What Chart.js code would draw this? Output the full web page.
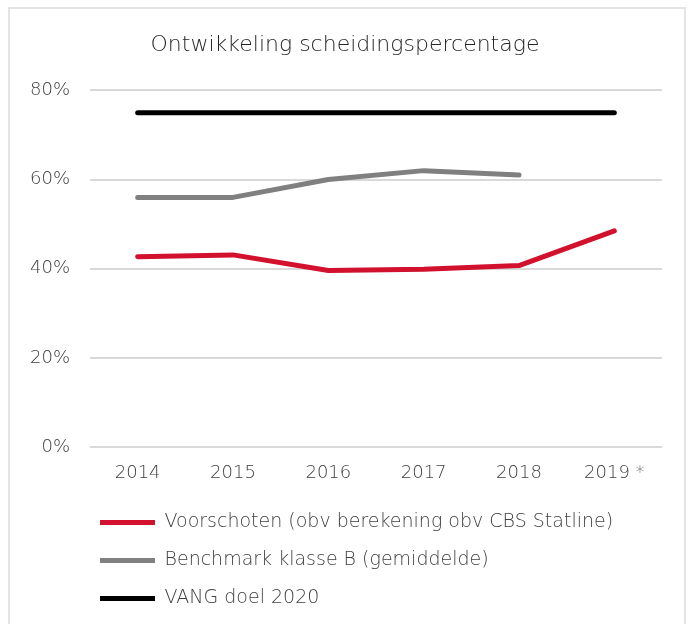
<!DOCTYPE html>
<html>
<head>
<meta charset="utf-8">
<script src="https://cdn.jsdelivr.net/npm/chart.js@4.4.0/dist/chart.umd.min.js"></script>
<style>
    body { margin: 0; background: #ffffff; }
    #frame {
        position: absolute; left: 8px; top: 7px; width: 678px; height: 640px;
        border: 2px solid #e4e4e4; box-sizing: border-box;
    }
    #wrap { position: absolute; left: 0; top: 0; width: 694px; height: 624px; }
</style>
</head>
<body>
<div id="frame"></div>
<div id="wrap"><canvas id="scheidingChart"></canvas></div>
<script>
const jaren = ['2014', '2015', '2016', '2017', '2018', '2019 *'];
const voorschoten = [42.7, 43.1, 39.6, 39.9, 40.7, 48.5];
const benchmark = [56, 56, 60, 62, 61, null];
const vangDoel = [75, 75, 75, 75, 75, 75];

const fontFamily = "'DejaVu Sans', sans-serif";
const tekstKleur = '#404040';

// legenda zo schuiven dat hij net binnen het plotvlak begint
const legendaOffset = {
    id: 'legendaOffset',
    afterLayout(chart) {
        const legend = chart.legend;
        const pad = legend.options.labels.padding;
        const shift = (chart.chartArea.left + 10) - (legend.left + pad);
        legend.left += shift;
        legend.right += shift;
    }
};

const ctx = document.getElementById('scheidingChart').getContext('2d');
new Chart(ctx, {
    type: 'line',
    data: {
        labels: jaren,
        datasets: [
            {
                label: 'Voorschoten (obv berekening obv CBS Statline)',
                data: voorschoten,
                borderColor: '#d2112e',
                backgroundColor: '#d2112e',
                borderWidth: 5,
            },
            {
                label: 'Benchmark klasse B (gemiddelde)',
                data: benchmark,
                borderColor: '#808080',
                backgroundColor: '#808080',
                borderWidth: 5,
            },
            {
                label: 'VANG doel 2020',
                data: vangDoel,
                borderColor: '#000000',
                backgroundColor: '#000000',
                borderWidth: 5,
            }
        ]
    },
    options: {
        responsive: true,
        maintainAspectRatio: false,
        animation: false,
        elements: {
            point: { radius: 0, hoverRadius: 0 },
            line: { tension: 0, borderCapStyle: 'round', borderJoinStyle: 'round' }
        },
        layout: {
            padding: { top: 32, left: 28, right: 32, bottom: 6 }
        },
        plugins: {
            title: {
                display: true,
                text: 'Ontwikkeling scheidingspercentage',
                color: '#262626',
                font: { family: fontFamily, size: 22, weight: 300 },
                padding: { top: 0, bottom: 32 }
            },
            legend: {
                position: 'bottom',
                align: 'start',
                fullSize: false,
                labels: {
                    usePointStyle: true,
                    pointStyle: 'line',
                    pointStyleWidth: 55,
                    padding: 19,
                    color: tekstKleur,
                    font: { family: fontFamily, size: 19, weight: 300 }
                }
            },
            tooltip: { enabled: false }
        },
        scales: {
            x: {
                offset: true,
                grid: { display: false },
                border: { display: false },
                ticks: {
                    color: tekstKleur,
                    padding: 8,
                    font: { family: fontFamily, size: 18, weight: 300 }
                },
                afterFit: scale => { scale.height = 47; }
            },
            y: {
                min: 0,
                max: 80,
                border: { display: false },
                grid: { color: '#d9d9d9', lineWidth: 2, drawTicks: false },
                ticks: {
                    stepSize: 20,
                    padding: 20,
                    color: tekstKleur,
                    font: { family: fontFamily, size: 18, weight: 300 },
                    callback: v => v + '%'
                },
                afterFit: scale => { scale.width = 62; }
            }
        }
    },
    plugins: [legendaOffset]
});
</script>
</body>
</html>
